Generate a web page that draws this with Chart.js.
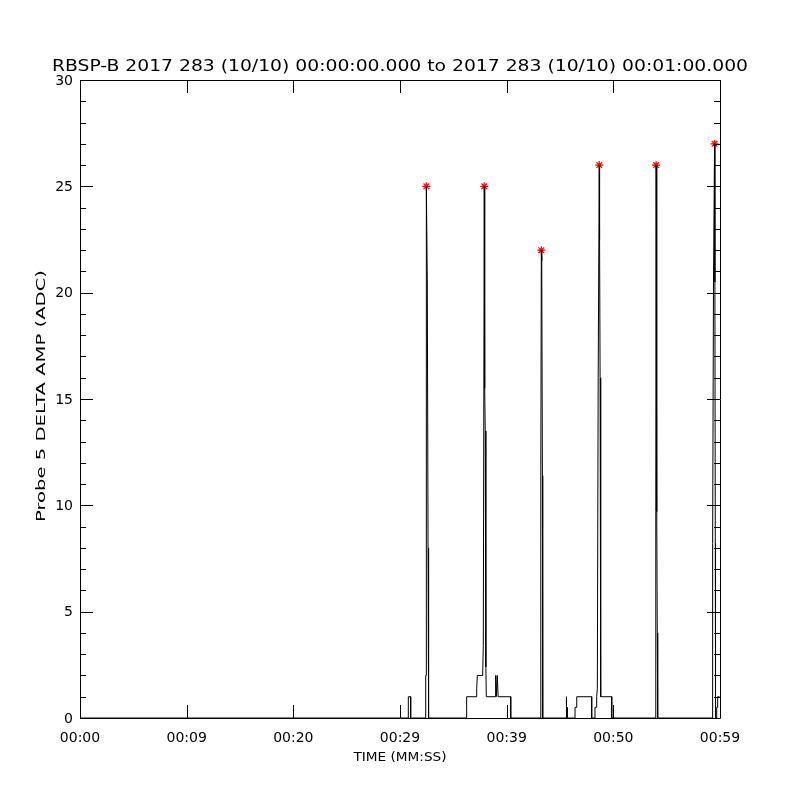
<!DOCTYPE html>
<html>
<head>
<meta charset="utf-8">
<script src="https://cdn.jsdelivr.net/npm/chart.js@4"></script>
<style>
  html, body { margin: 0; padding: 0; background: #fff; }
  canvas { display: block; }
</style>
</head>
<body>
<canvas id="c" width="800" height="800"></canvas>
<script>
// ---- Data (seconds since 00:00:00, ADC amplitude) ----
const probeTimes = [
  0, 30.78, 30.78, 31.00, 31.00,
  32.37, 32.41, 32.44, 32.47, 32.56, 32.63, 32.68,
  36.25, 36.25, 37.19, 37.19, 37.25, 37.75, 37.81, 37.90, 37.94, 37.99, 38.05, 38.09,
  38.92, 38.95, 38.99, 39.02, 39.09, 39.12, 39.16, 39.20, 40.38, 40.38,
  43.18, 43.20, 43.25, 43.29, 43.35, 43.38,
  45.59, 45.59, 45.62, 45.68, 45.68,
  46.41, 46.41, 46.57, 46.57, 47.97, 47.97,
  48.28, 48.28, 48.42, 48.44, 48.50, 48.58, 48.68, 48.71, 48.76, 48.79, 48.84, 49.85, 49.85,
  53.96, 53.98, 54.01, 54.05, 54.09, 54.12, 54.15, 54.17,
  59.28, 59.31, 59.39, 59.49, 59.52, 59.56, 59.58, 59.69, 59.69, 59.78, 59.78, 59.95
];
const probeValues = [
  0, 0, 1, 1, 0,
  0, 2, 2, 25, 20.5, 8, 0,
  0, 1, 1, 1.4, 2, 2, 3.4, 25, 15.5, 13.5, 2.4, 1,
  1, 2, 2, 1, 1, 2, 2, 1, 1, 0,
  0, 11.4, 22, 21.5, 11.4, 0,
  0, 1, 0.5, 0.5, 0,
  0, 0.5, 0.5, 1, 1, 0,
  0, 0.5, 0.5, 1, 1.4, 16, 26, 22.5, 16, 1.5, 1, 1, 0,
  0, 9.7, 26, 16.3, 9.7, 4, 2.5, 0,
  0, 8.2, 20.5, 27, 20.5, 8.2, 0, 0, 0.5, 0.5, 1, 1
];
const peakTimes  = [32.47, 37.90, 43.25, 48.68, 54.01, 59.49];
const peakValues = [25, 25, 22, 26, 26, 27];

// ---- Axes ----
const xMin = 0, xMax = 60;
const yMin = 0, yMax = 30;
const xTickValues = [0, 10, 20, 30, 40, 50, 60];
const xTickLabels = ['00:00', '00:09', '00:20', '00:29', '00:39', '00:50', '00:59'];
const yTickValues = [0, 5, 10, 15, 20, 25, 30];
const yTickLabels = ['0', '5', '10', '15', '20', '25', '30'];
const yMinorTickValues = [1,2,3,4,6,7,8,9,11,12,13,14,16,17,18,19,21,22,23,24,26,27,28,29];

const titleText = 'RBSP-B 2017 283 (10/10) 00:00:00.000 to 2017 283 (10/10) 00:01:00.000';
const xTitleText = 'TIME (MM:SS)';
const yTitleText = 'Probe 5 DELTA AMP (ADC)';

const probePoints = probeTimes.map((t, i) => ({ x: t, y: probeValues[i] }));
const peakPoints = peakTimes.map((t, i) => ({ x: t, y: peakValues[i] }));

function fitText(ctx, text, x, y, width) {
  const w = ctx.measureText(text).width;
  const sx = width / w;
  ctx.save();
  ctx.translate(x, y);
  ctx.scale(sx, 1);
  ctx.fillText(text, 0, 0);
  ctx.restore();
}

const bgPlugin = {
  id: 'bg',
  beforeDraw(chart) {
    const ctx = chart.ctx;
    ctx.save();
    ctx.fillStyle = '#ffffff';
    ctx.fillRect(0, 0, chart.width, chart.height);
    ctx.restore();
  }
};

const axesPlugin = {
  id: 'idlAxes',
  afterDraw(chart) {
    const ctx = chart.ctx;
    const a = chart.chartArea;
    const xs = chart.scales.x, ys = chart.scales.y;
    ctx.save();
    ctx.strokeStyle = '#000';
    ctx.lineWidth = 1;
    ctx.beginPath();
    ctx.rect(a.left + 0.5, a.top + 0.5, a.right - a.left, a.bottom - a.top);
    ctx.stroke();

    ctx.beginPath();
    xTickValues.forEach(v => {
      const px = Math.round(xs.getPixelForValue(v)) + 0.5;
      ctx.moveTo(px, a.bottom); ctx.lineTo(px, a.bottom - 13);
      ctx.moveTo(px, a.top); ctx.lineTo(px, a.top + 13);
    });
    yTickValues.forEach(v => {
      const py = Math.round(ys.getPixelForValue(v)) + 0.5;
      ctx.moveTo(a.left, py); ctx.lineTo(a.left + 13, py);
      ctx.moveTo(a.right, py); ctx.lineTo(a.right - 13, py);
    });
    yMinorTickValues.forEach(v => {
      const py = Math.round(ys.getPixelForValue(v)) + 0.5;
      ctx.moveTo(a.left, py); ctx.lineTo(a.left + 6, py);
      ctx.moveTo(a.right, py); ctx.lineTo(a.right - 6, py);
    });
    ctx.stroke();

    ctx.fillStyle = '#000';
    ctx.font = '14px "DejaVu Sans"';
    ctx.textBaseline = 'middle';
    ctx.textAlign = 'center';
    xTickValues.forEach((v, i) => {
      const px = xs.getPixelForValue(v);
      ctx.fillText(xTickLabels[i], px, 738.5);
    });
    ctx.textAlign = 'right';
    yTickValues.forEach((v, i) => {
      const py = ys.getPixelForValue(v);
      ctx.fillText(yTickLabels[i], 73, py + 1);
    });

    // titles
    ctx.textAlign = 'center';
    ctx.textBaseline = 'alphabetic';
    ctx.font = '16px "DejaVu Sans"';
    fitText(ctx, titleText, 400, 71, 696);

    ctx.font = '13px "DejaVu Sans"';
    ctx.textBaseline = 'middle';
    fitText(ctx, xTitleText, 400, 758, 93);

    ctx.font = '12px "DejaVu Sans"';
    ctx.save();
    ctx.translate(42, 396);
    ctx.rotate(-Math.PI / 2);
    fitText(ctx, yTitleText, 0, 0, 252);
    ctx.restore();

    ctx.restore();
  }
};

new Chart(document.getElementById('c'), {
  type: 'line',
  data: {
    datasets: [
      {
        data: probePoints,
        borderColor: '#000000',
        borderWidth: 1,
        pointRadius: 0,
        tension: 0,
        fill: false
      },
      {
        data: peakPoints,
        showLine: false,
        pointStyle: 'star',
        pointRadius: 4,
        pointBorderWidth: 1.2,
        pointBorderColor: '#ff0000',
        pointBackgroundColor: '#ff0000'
      }
    ]
  },
  options: {
    responsive: false,
    devicePixelRatio: 1,
    animation: false,
    events: [],
    layout: { padding: { left: 80, right: 80, top: 80, bottom: 82 } },
    plugins: {
      legend: { display: false },
      title: { display: false },
      tooltip: { enabled: false }
    },
    scales: {
      x: { type: 'linear', min: xMin, max: xMax, display: false },
      y: { type: 'linear', min: yMin, max: yMax, display: false }
    }
  },
  plugins: [bgPlugin, axesPlugin]
});
</script>
</body>
</html>
